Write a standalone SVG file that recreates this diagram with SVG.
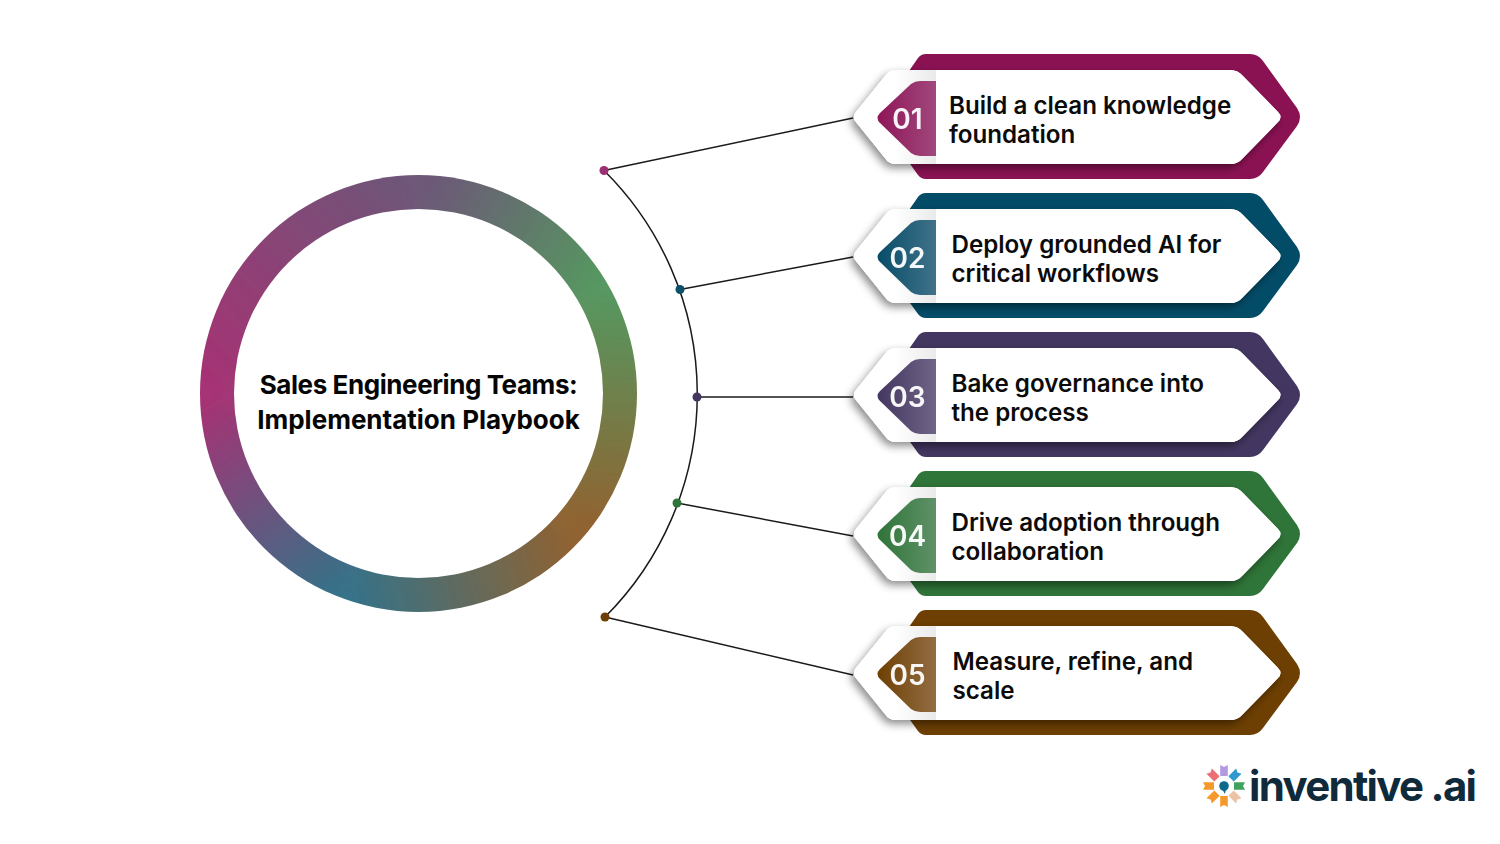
<svg xmlns="http://www.w3.org/2000/svg" width="1500" height="844" viewBox="0 0 1500 844">
<style>
.wire{fill:none;stroke:#1a1a1a;stroke-width:1.5}
.t{font-family:Inter,"Liberation Sans",sans-serif;font-weight:600;font-size:24.15px;fill:#0b0b0b}
.n{font-family:Inter,"Liberation Sans",sans-serif;font-weight:600;font-size:28px;fill:#fff;text-anchor:middle;opacity:.95}
.title{font-family:Inter,"Liberation Sans",sans-serif;font-weight:700;font-size:26px;fill:#050505;text-anchor:middle}
.ring{fill:none;stroke-width:100}
.logo{font-family:Inter,"Open Sans",sans-serif;font-weight:700;font-size:42px;fill:#0e2a3b}
</style>
<defs>
<path id="outer" d="M926 54H1250Q1258 54 1263 61L1297 108Q1303 117 1297 126L1263 172Q1258 179 1250 179H926Q921 179 918 175L900 150V84L918 58Q921 54 926 54Z"/>
<path id="inner" d="M896 70H1230Q1238 70 1243 76L1278 112Q1283 117 1278 122L1243 158Q1238 164 1230 164H896Q889 164 885 158L856 122Q852 117 856 112L885 76Q889 70 896 70Z"/>
<path id="tab" d="M936 81V156H920Q915 156 911 153L880 123Q875 118 880 113L911 84Q915 81 920 81Z"/>
<linearGradient id="sheen" x1="895" x2="936" y1="0" y2="0" gradientUnits="userSpaceOnUse"><stop offset="0" stop-color="#fff"/><stop offset="1" stop-color="#eaeaea"/><stop offset="1" stop-color="#fff"/></linearGradient>
<filter id="sh" x="-10%" y="-25%" width="120%" height="155%"><feDropShadow dx="-3" dy="4" stdDeviation="4" flood-color="#000" flood-opacity=".45"/></filter>
<filter id="soft" filterUnits="userSpaceOnUse" x="100" y="80" width="640" height="640"><feGaussianBlur stdDeviation="9"/></filter>
<mask id="annulus" maskUnits="userSpaceOnUse" x="190" y="165" width="460" height="460"><circle cx="418.5" cy="393.5" r="218.5" fill="#fff"/><circle cx="418.5" cy="393.5" r="184.5" fill="#000"/></mask>
<linearGradient id="g1" x1="877" x2="936" y1="0" y2="0" gradientUnits="userSpaceOnUse"><stop offset="0" stop-color="#8f1558"/><stop offset="1" stop-color="#a0487c"/></linearGradient>
<linearGradient id="g2" x1="877" x2="936" y1="0" y2="0" gradientUnits="userSpaceOnUse"><stop offset="0" stop-color="#074c68"/><stop offset="1" stop-color="#41728a"/></linearGradient>
<linearGradient id="g3" x1="877" x2="936" y1="0" y2="0" gradientUnits="userSpaceOnUse"><stop offset="0" stop-color="#433660"/><stop offset="1" stop-color="#6f6487"/></linearGradient>
<linearGradient id="g4" x1="877" x2="936" y1="0" y2="0" gradientUnits="userSpaceOnUse"><stop offset="0" stop-color="#2f7438"/><stop offset="1" stop-color="#5f9169"/></linearGradient>
<linearGradient id="g5" x1="877" x2="936" y1="0" y2="0" gradientUnits="userSpaceOnUse"><stop offset="0" stop-color="#6d3f02"/><stop offset="1" stop-color="#936d43"/></linearGradient>
<linearGradient id="r1" gradientUnits="userSpaceOnUse" x1="217" y1="393.5" x2="418.5" y2="192"><stop offset="0" stop-color="#a63274"/><stop offset="1" stop-color="#6d5678"/></linearGradient>
<linearGradient id="r2" gradientUnits="userSpaceOnUse" x1="418.5" y1="192" x2="593" y2="292.8"><stop offset="0" stop-color="#6d5678"/><stop offset="1" stop-color="#569760"/></linearGradient>
<linearGradient id="r3" gradientUnits="userSpaceOnUse" x1="593" y1="292.8" x2="570.6" y2="525.7"><stop offset="0" stop-color="#569760"/><stop offset="1" stop-color="#916230"/></linearGradient>
<linearGradient id="r4" gradientUnits="userSpaceOnUse" x1="570.6" y1="525.7" x2="349.6" y2="582.8"><stop offset="0" stop-color="#916230"/><stop offset="1" stop-color="#357288"/></linearGradient>
<linearGradient id="r5" gradientUnits="userSpaceOnUse" x1="349.6" y1="582.8" x2="217" y2="393.5"><stop offset="0" stop-color="#357288"/><stop offset="1" stop-color="#a63274"/></linearGradient>
<path id="rib" d="M-3.8 -21L0 -19L3.8 -21V-10H-3.8Z"/>
</defs>
<rect width="1500" height="844" fill="#fff"/>
<g id="connectors">
<path class="wire" d="M604 170.5A315 315 0 0 1 605 617"/>
<path class="wire" d="M604 170.5L853 118"/>
<path class="wire" d="M680 289.5L853 257"/>
<path class="wire" d="M697 397H853"/>
<path class="wire" d="M677 503L853 536"/>
<path class="wire" d="M605 617L853 675"/>
<circle cx="604" cy="170.5" r="4.5" fill="#9c2f73"/>
<circle cx="680" cy="289.5" r="4.5" fill="#0c4f68"/>
<circle cx="697" cy="397" r="4.5" fill="#433660"/>
<circle cx="677" cy="503" r="4.5" fill="#2f7438"/>
<circle cx="605" cy="617" r="4.5" fill="#6d3f02"/>
</g>
<g id="hub">
<g mask="url(#annulus)"><g filter="url(#soft)">
<path class="ring" stroke="url(#r1)" d="M217 393.5A201.5 201.5 0 0 1 418.5 192"/>
<path class="ring" stroke="url(#r2)" d="M418.5 192A201.5 201.5 0 0 1 593 292.8"/>
<path class="ring" stroke="url(#r3)" d="M593 292.8A201.5 201.5 0 0 1 570.6 525.7"/>
<path class="ring" stroke="url(#r4)" d="M570.6 525.7A201.5 201.5 0 0 1 349.6 582.8"/>
<path class="ring" stroke="url(#r5)" d="M349.6 582.8A201.5 201.5 0 0 1 217 393.5"/>
</g></g>
<text class="title" x="418.5" y="394" letter-spacing="-.42">Sales Engineering Teams:</text>
<text class="title" x="418.5" y="429">Implementation Playbook</text>
</g>
<g id="node1">
<use href="#outer" fill="#8a1253"/><use href="#inner" fill="#fff" filter="url(#sh)"/><use href="#inner" fill="url(#sheen)"/>
<use href="#tab" fill="url(#g1)"/>
<text class="n" x="907.5" y="129">01</text>
<text class="t" x="949" y="114">Build a clean knowledge</text><text class="t" x="949" y="143">foundation</text>
</g>
<g id="node2" transform="translate(0 139)">
<use href="#outer" fill="#034c68"/><use href="#inner" fill="#fff" filter="url(#sh)"/><use href="#inner" fill="url(#sheen)"/>
<use href="#tab" fill="url(#g2)"/>
<text class="n" x="907.5" y="129">02</text>
<text class="t" x="951.5" y="114">Deploy grounded AI for</text><text class="t" x="951.5" y="143">critical workflows</text>
</g>
<g id="node3" transform="translate(0 278)">
<use href="#outer" fill="#433660"/><use href="#inner" fill="#fff" filter="url(#sh)"/><use href="#inner" fill="url(#sheen)"/>
<use href="#tab" fill="url(#g3)"/>
<text class="n" x="907.5" y="129">03</text>
<text class="t" x="951.5" y="114">Bake governance into</text><text class="t" x="951.5" y="143">the process</text>
</g>
<g id="node4" transform="translate(0 417)">
<use href="#outer" fill="#2f7438"/><use href="#inner" fill="#fff" filter="url(#sh)"/><use href="#inner" fill="url(#sheen)"/>
<use href="#tab" fill="url(#g4)"/>
<text class="n" x="907.5" y="129">04</text>
<text class="t" x="951.5" y="114">Drive adoption through</text><text class="t" x="951.5" y="143">collaboration</text>
</g>
<g id="node5" transform="translate(0 556)">
<use href="#outer" fill="#6d3f02"/><use href="#inner" fill="#fff" filter="url(#sh)"/><use href="#inner" fill="url(#sheen)"/>
<use href="#tab" fill="url(#g5)"/>
<text class="n" x="907.5" y="129">05</text>
<text class="t" x="952.5" y="114">Measure, refine, and</text><text class="t" x="952.5" y="143">scale</text>
</g>
<g id="logo">
<g transform="translate(1224 786)">
<use href="#rib" fill="#b39ae0"/>
<use href="#rib" fill="#2e9ad0" transform="rotate(45)"/>
<use href="#rib" fill="#3fa35f" transform="rotate(90)"/>
<use href="#rib" fill="#ebc4a8" transform="rotate(135)"/>
<use href="#rib" fill="#f59a2a" transform="rotate(180)"/>
<use href="#rib" fill="#f59a2a" transform="rotate(225)"/>
<use href="#rib" fill="#f59a2a" transform="rotate(270)"/>
<use href="#rib" fill="#ec6f74" transform="rotate(315)"/>
<circle r="4.8" fill="#0e6a8a"/><path d="M-2 3L1 8L2 3Z" fill="#0e6a8a"/>
</g>
<text class="logo" x="1249" y="801" textLength="228" lengthAdjust="spacing">inventive .ai</text>
</g>
</svg>
